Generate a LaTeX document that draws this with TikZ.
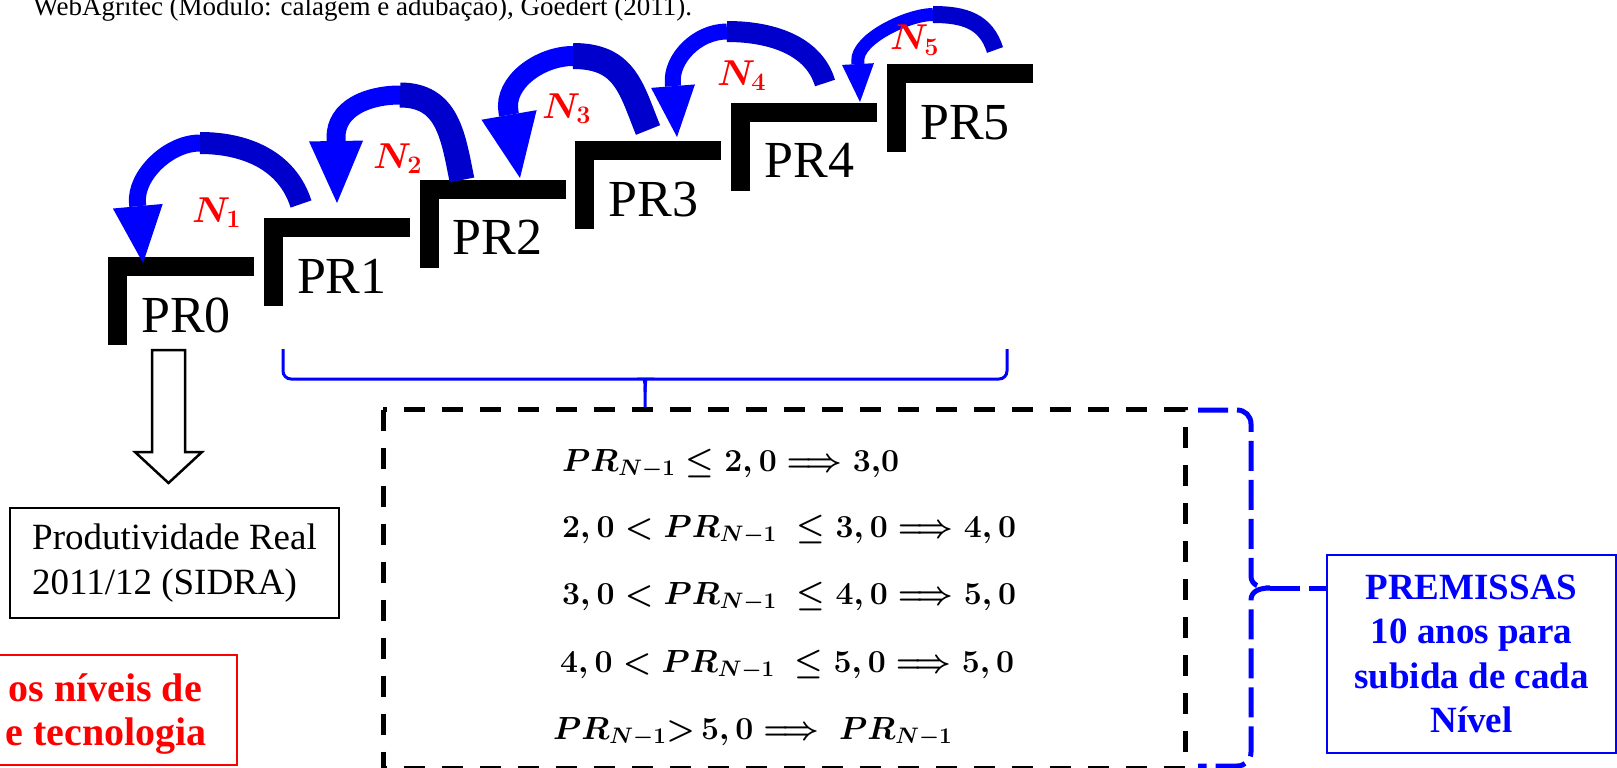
\RequirePackage{fix-cm}
\documentclass[tikz,border=0pt]{standalone}
\usepackage{amsmath}
\usepackage{fontspec}
\newfontfamily\timesfont{Liberation Serif}
\usetikzlibrary{positioning, arrows.meta, calc}
\definecolor{arrDark}{RGB}{0, 0, 204}
\definecolor{arrBright}{RGB}{0, 0, 255}
\definecolor{accRed}{RGB}{255, 0, 0}
\definecolor{accBlue}{RGB}{0, 0, 255}

\begin{document}
\begin{tikzpicture}[
    x=1pt, y=-1pt,
    font=\timesfont,
    stepline/.style={line width=19pt, line join=miter, line cap=butt},
    prlabel/.style={anchor=base west, inner sep=0pt, font=\timesfont\fontsize{52}{52}\selectfont},
    nlabel/.style={anchor=base west, inner sep=0pt, text=accRed, font=\fontsize{36}{36}\selectfont\boldmath},
    shaftdark/.style={draw=arrDark, line width=#1, line cap=butt},
    shaftbright/.style={draw=arrBright, line width=#1, line cap=butt},
    hollowarrow/.style={draw, line width=2.5pt, line join=miter, fill=white},
    mathline/.style={anchor=base west, inner sep=0pt, font=\fontsize{32}{32}\selectfont\boldmath},
    rulesbox/.style={draw, line width=5pt, dash pattern=on 21pt off 17pt},
    stepbrace/.style={draw=accBlue, line width=3pt, rounded corners=8pt},
    premisbrace/.style={draw=accBlue, line width=5pt, dash pattern=on 30pt off 9pt},
    infobox/.style={draw, line width=1.5pt, align=left, inner sep=0pt, font=\timesfont\fontsize{37}{45}\selectfont},
    premisbox/.style={draw=accBlue, line width=2pt, align=center, inner sep=0pt, text=accBlue, font=\timesfont\bfseries\fontsize{37}{44.3}\selectfont},
    redbox/.style={draw=accRed, line width=2pt},
    redtext/.style={anchor=base east, inner sep=0pt, text=accRed, font=\timesfont\bfseries\fontsize{40}{40}\selectfont}
]
\useasboundingbox (0,0) rectangle (1617,768);

% source line, cut at the top
\node[anchor=base west, inner sep=0pt, font=\timesfont\fontsize{27}{27}\selectfont] (source) at (33,16) {WebAgritec (Módulo: calagem e adubação), Goedert (2011).};

% the stairs
\foreach \i in {0,...,5}{
    \pgfmathsetmacro\sx{108+155.8*\i}
    \pgfmathsetmacro\sy{257-38.6*\i}
    \draw[stepline] (\sx+9.5,\sy+88) -- (\sx+9.5,\sy+9.5) -- (\sx+146,\sy+9.5);
    \node[prlabel] (pr\i) at (\sx+33,\sy+75) {PR\i};
}

% jumps between levels
\coordinate (t1) at (301,204); \coordinate (p1) at (200,143); \coordinate (b1) at (137.5,203); \coordinate (h1) at (143,263);
\coordinate (t2) at (462,180); \coordinate (p2) at (400,95);  \coordinate (b2) at (336,138);   \coordinate (h2) at (337,203);
\coordinate (t3) at (648,130); \coordinate (p3) at (573,56);  \coordinate (b3) at (508.5,112); \coordinate (h3) at (520,178);
\coordinate (t4) at (825,83);  \coordinate (p4) at (727,31.5);\coordinate (b4) at (672.8,83.5);\coordinate (h4) at (677,137);
\coordinate (t5) at (995,50);  \coordinate (p5) at (933,14.5);\coordinate (b5) at (857.8,61);  \coordinate (h5) at (860,102);

\draw[shaftdark=22pt] (t1) .. controls (287,160) and (245,143) .. (p1);
\draw[shaftbright=17pt, -{Triangle[length=57pt, width=50pt, line width=0pt]}] (p1) .. controls (168,143) and (135,176) .. (b1) -- (h1);
\draw[shaftdark=25pt] (t2) .. controls (453,136) and (448,95) .. (p2);
\draw[shaftbright=19pt, -{Triangle[length=62pt, width=54pt, line width=0pt]}] (p2) .. controls (368,95) and (335.5,108) .. (b2) -- (h2);
\draw[shaftdark=26pt] (t3) .. controls (631,88) and (625,56) .. (p3);
\draw[shaftbright=20pt, -{Triangle[length=64pt, width=56pt, line width=0pt]}] (p3) .. controls (540,56) and (503,82.5) .. (b3) -- (h3);
\draw[shaftdark=21pt] (t4) .. controls (813.5,44.6) and (770,31.5) .. (p4);
\draw[shaftbright=16pt, -{Triangle[length=51pt, width=44pt, line width=0pt]}] (p4) .. controls (697,31.5) and (670.8,58.6) .. (b4) -- (h4);
\draw[shaftdark=17pt] (t5) .. controls (986,21.5) and (965,14.5) .. (p5);
\draw[shaftbright=13pt, -{Triangle[length=38pt, width=32pt, line width=0pt]}] (p5) .. controls (908,14.5) and (856.6,39) .. (b5) -- (h5);

\node[nlabel] (n1) at (192,222) {$N_1$};
\node[nlabel] (n2) at (373,168) {$N_2$};
\node[nlabel] (n3) at (542,118) {$N_3$};
\node[nlabel] (n4) at (717,85)  {$N_4$};
\node[nlabel] (n5) at (890,50)  {$N_5$};

% real yield
\node[infobox, minimum width=329pt, minimum height=110pt] (sidra) at (174.5,563) {Produtividade Real\\2011/12 (SIDRA)};
\coordinate (ra) at (168.5,350);
\draw[hollowarrow] ($(ra)+(-16.5,0)$) -- ++(33,0) -- ++(0,102) -- ++(17,0) -- ($(ra)+(0,133)$)
    -- ($(ra)+(-33.5,102)$) -- ++(17,0) -- cycle;

\draw[redbox] (-10,655) rectangle (237,765);
\node[redtext] (niv1) at (202,701) {os níveis de};
\node[redtext] (niv2) at (207,745) {e tecnologia};

% rules for each level
\coordinate (bracetip) at (645,409);
\draw[stepbrace] (283,349) -- (283,379) -- (638,379) .. controls (643,379) and (645,382) .. (645,392) -- (bracetip);
\draw[stepbrace] (1007,349) -- (1007,379) -- (652,379) .. controls (647,379) and (645,382) .. (645,392);

\draw[rulesbox] (383,409.5) rectangle (1185,768.5);
\node[mathline] (f1) at (562,471) {$PR_{N-1} \le 2,0 \Longrightarrow 3{,}0$};
\node[mathline] (f2) at (562,537) {$2,0 < PR_{N-1}\ \le 3,0 \Longrightarrow 4,0$};
\node[mathline] (f3) at (562,604) {$3,0 < PR_{N-1}\ \le 4,0 \Longrightarrow 5,0$};
\node[mathline] (f4) at (560,672) {$4,0 < PR_{N-1}\ \le 5,0 \Longrightarrow 5,0$};
\node[mathline] (f5) at (553,739) {$PR_{N-1}{>}\,5,0 \Longrightarrow\ PR_{N-1}$};

% premises
\node[premisbox, minimum width=289pt, minimum height=198pt] (premissas) at (1471.5,654) {PREMISSAS\\10 anos para\\subida de cada\\Nível};
\coordinate (btip) at (1270,588);
\draw[premisbrace] (1198,410) -- (1237,410) .. controls (1245,410) and (1251,416) .. (1251,424) -- (1251,576)
    .. controls (1251,584) and (1258,588) .. (btip)
    .. controls (1258,588) and (1251,592) .. (1251,600) -- (1251,752)
    .. controls (1251,760) and (1245,766) .. (1237,766) -- (1198,766);
\draw[premisbrace] (btip) -- (btip -| premissas.west);
\end{tikzpicture}
\end{document}
